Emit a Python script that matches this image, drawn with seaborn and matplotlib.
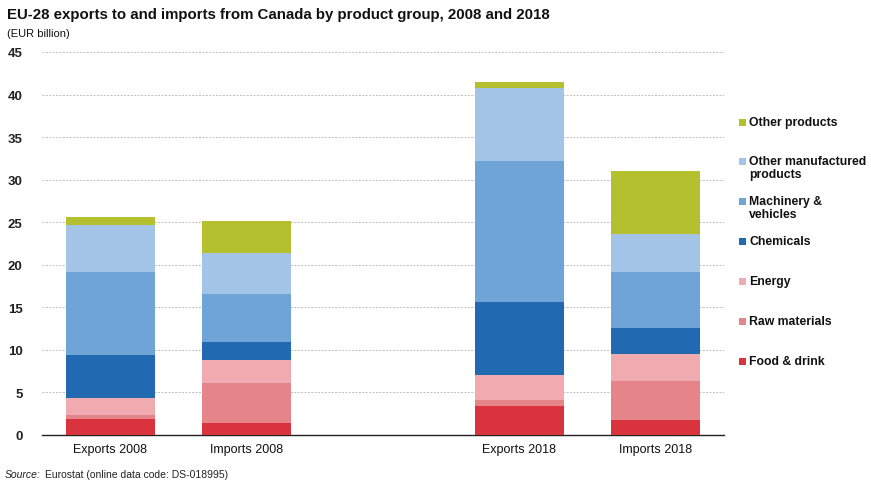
import matplotlib
matplotlib.use("Agg")
import matplotlib.pyplot as plt
from matplotlib.patches import Rectangle
import numpy as np
import pandas as pd
import seaborn as sns

# Trade flows (EUR billion), stacked from bottom to top
flows = ["Exports 2008", "Imports 2008", "", "Exports 2018", "Imports 2018"]
groups = ["Food & drink", "Raw materials", "Energy", "Chemicals",
          "Machinery & vehicles", "Other manufactured products", "Other products"]

food_drink = [1.9, 1.4, 3.35, 1.8]
raw_materials = [0.45, 4.75, 0.8, 4.5]
energy = [2.0, 2.65, 2.9, 3.2]
chemicals = [5.1, 2.1, 8.55, 3.1]
machinery_vehicles = [9.75, 5.65, 16.6, 6.6]
other_manufactured = [5.5, 4.85, 8.6, 4.4]
other_products = [0.9, 3.8, 0.7, 7.4]

legend_labels = ["Other products", "Other manufactured\nproducts",
                 "Machinery &\nvehicles", "Chemicals", "Energy",
                 "Raw materials", "Food & drink"]

colors = ["#d9343e", "#e5858a", "#f0abb1", "#2169b1",
          "#6fa4d6", "#a3c4e7", "#b4c02e"]

data_flows = [f for f in flows if f]
series = [food_drink, raw_materials, energy, chemicals,
          machinery_vehicles, other_manufactured, other_products]

rows = []
for g, vals in zip(groups, series):
    for f, v in zip(data_flows, vals):
        rows.append({"flow": f, "group": g, "value": v})
df = pd.DataFrame(rows)
df["group"] = pd.Categorical(df["group"], categories=groups, ordered=True)
df = df.sort_values(["flow", "group"])
df["top"] = df.groupby("flow")["value"].cumsum()

sns.set_theme(style="white")
plt.rcParams["font.family"] = ["Liberation Sans", "DejaVu Sans"]

fig = plt.figure(figsize=(8.71, 4.81), dpi=100)
ax = fig.add_axes([42 / 871, 1 - 436 / 481, (724 - 42) / 871, (436 - 53) / 481])

# Draw cumulative stacks from the top layer down so lower layers overlay upper ones
for g, c in reversed(list(zip(groups, colors))):
    sub = df[df["group"] == g]
    sns.barplot(data=sub, x="flow", y="top", order=flows, color=c,
                width=0.65, saturation=1, ax=ax, zorder=3,
                edgecolor="none", linewidth=0)

ax.set_ylim(0, 45)
ax.set_xlim(-0.5, len(flows) - 0.5)
ax.set_yticks(np.arange(0, 46, 5))
ax.yaxis.grid(True, linestyle=(0, (2, 1.5)), color="#bdbdbd", linewidth=0.7, zorder=0)
ax.set_axisbelow(True)
ax.set_xlabel("")
ax.set_ylabel("")

for s in ["top", "right", "left"]:
    ax.spines[s].set_visible(False)
ax.spines["bottom"].set_color("#222222")
ax.spines["bottom"].set_linewidth(1.0)

ax.tick_params(axis="y", length=0, pad=14, labelsize=9.5, labelcolor="#222222")
ax.set_yticklabels([str(v) for v in range(0, 46, 5)], fontweight="bold")
ax.set_xticks(range(len(flows)))
ax.set_xticklabels(flows, fontsize=9, color="#111111")
ax.tick_params(axis="x", which="major", length=0, pad=6)
ax.set_xticks(np.arange(-0.5, len(flows), 1.0), minor=True)
ax.tick_params(axis="x", which="minor", length=4, width=1.0, color="#222222", direction="out")

# Title, unit and source
fig.text(7 / 871, 1 - 15 / 481, "EU-28 exports to and imports from Canada by product group, 2008 and 2018",
         fontsize=10.8, fontweight="bold", color="#111111", va="center", ha="left")
fig.text(7 / 871, 1 - 34 / 481, "(EUR billion)", fontsize=8, color="#111111",
         va="center", ha="left")
fig.text(5 / 871, 1 - 475 / 481, "Source:", fontsize=7.5, style="italic",
         color="#222222", va="center", ha="left")
fig.text(45 / 871, 1 - 475 / 481, "Eurostat (online data code: DS-018995)",
         fontsize=7.5, color="#222222", va="center", ha="left")

# Legend, top to bottom
legend_y = [123, 162, 202, 242, 282, 322, 362]
for lab, c, y in zip(legend_labels, reversed(colors), legend_y):
    fig.patches.append(Rectangle((739 / 871, 1 - (y + 4) / 481), 7 / 871, 7 / 481,
                                 transform=fig.transFigure, facecolor=c,
                                 edgecolor="none"))
    fig.text(749 / 871, 1 - (y - 6) / 481, lab, fontsize=8.8, fontweight="bold",
             color="#111111", va="top", ha="left", linespacing=1.15)

fig.savefig("out.png", dpi=100)
